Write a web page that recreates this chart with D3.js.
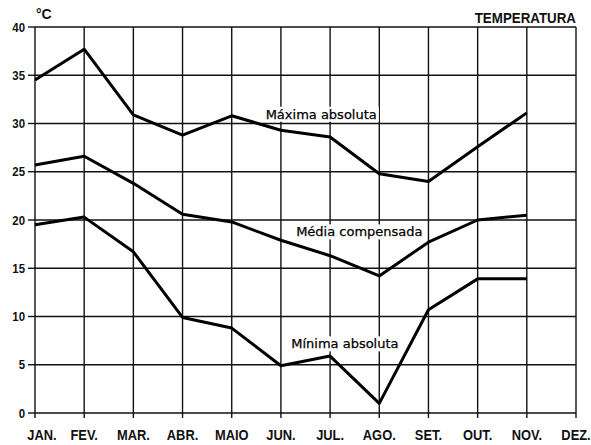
<!DOCTYPE html>
<html>
<head>
<meta charset="utf-8">
<script src="https://cdn.jsdelivr.net/npm/d3@7/dist/d3.min.js"></script>
<style>
  html, body { margin: 0; padding: 0; background: #fff; }
  svg { display: block; }
</style>
</head>
<body>
<svg id="chart" width="591" height="445"></svg>
<script>
// ---- data ----
const months = ["JAN.", "FEV.", "MAR.", "ABR.", "MAIO", "JUN.", "JUL.", "AGO.", "SET.", "OUT.", "NOV.", "DEZ."];
const yTicks = [0, 5, 10, 15, 20, 25, 30, 35, 40];
const maxima = [34.5, 37.7, 30.9, 28.8, 30.8, 29.3, 28.6, 24.8, 24.0, 27.6, 31.1];
const media  = [25.7, 26.6, 23.8, 20.6, 19.8, 17.9, 16.3, 14.2, 17.7, 20.0, 20.5];
const minima = [19.5, 20.3, 16.7, 9.9, 8.8, 4.9, 5.9, 1.0, 10.7, 13.9, 13.9];
const seriesLabels = ["Máxima absoluta", "Média compensada", "Mínima absoluta"];
const title = "TEMPERATURA";
const unit = "°C";

// ---- layout ----
const svg = d3.select("#chart");
const x = d3.scalePoint().domain(months).range([35, 576]);
const y = d3.scaleLinear().domain([0, 40]).range([413, 27]);
const ink = "#111";

// grid
const g = svg.append("g");
g.selectAll("line.h").data(yTicks).join("line")
  .attr("x1", x.range()[0]).attr("x2", x.range()[1])
  .attr("y1", d => y(d)).attr("y2", d => y(d))
  .attr("stroke", ink).attr("stroke-width", 1.4);
g.selectAll("line.v").data(months).join("line")
  .attr("x1", d => x(d)).attr("x2", d => x(d))
  .attr("y1", y(40)).attr("y2", y(0) + 5)
  .attr("stroke", ink).attr("stroke-width", 1.4);
// left ticks
g.selectAll("line.t").data(yTicks).join("line")
  .attr("x1", x.range()[0] - 7).attr("x2", x.range()[0])
  .attr("y1", d => y(d)).attr("y2", d => y(d))
  .attr("stroke", ink).attr("stroke-width", 1.4);

// y tick labels
svg.append("g").selectAll("text").data(yTicks).join("text")
  .attr("transform", d => `translate(${x.range()[0] - 10},${y(d) + 4.5}) scale(0.88,1)`)
  .attr("text-anchor", "end")
  .attr("font-family", "Liberation Sans, Arial, sans-serif")
  .attr("font-weight", "bold").attr("font-size", 13)
  .attr("fill", ink)
  .text(d => d);

// x labels
svg.append("g").selectAll("text").data(months).join("text")
  .attr("transform", (d, i) => `translate(${x(d) + (i === 0 ? 7 : 0)},${y(0) + 27}) scale(0.92,1)`)
  .attr("text-anchor", "middle")
  .attr("font-family", "Liberation Sans, Arial, sans-serif")
  .attr("font-weight", "bold").attr("font-size", 14)
  .attr("fill", ink)
  .text(d => d);

// unit and title
svg.append("text")
  .attr("transform", `translate(${x.range()[0] + 1},${y(40) - 8})`)
  .attr("font-family", "Liberation Sans, Arial, sans-serif")
  .attr("font-weight", "bold").attr("font-size", 14)
  .attr("fill", ink).text(unit);
svg.append("text")
  .attr("transform", `translate(${x.range()[1]},${y(40) - 4}) scale(0.89,1)`)
  .attr("text-anchor", "end")
  .attr("font-family", "Liberation Sans, Arial, sans-serif")
  .attr("font-weight", "bold").attr("font-size", 15)
  .attr("fill", ink).text(title);

// annotation labels (positions in data units: month index offset, value)
const annos = [
  { text: seriesLabels[0], m: 4.69, v: 30.5 },
  { text: seriesLabels[1], m: 5.31, v: 18.3 },
  { text: seriesLabels[2], m: 5.21, v: 6.7 }
];
const step = x.step();
const annoG = svg.append("g");
const annoTexts = annoG.selectAll("text").data(annos).join("text")
  .attr("x", d => x.range()[0] + d.m * step)
  .attr("y", d => y(d.v))
  .attr("font-family", "DejaVu Sans, sans-serif")
  .attr("font-size", 13)
  .attr("fill", "#000")
  .attr("stroke", "#000").attr("stroke-width", 0.25)
  .text(d => d.text);
annoTexts.each(function() {
  const b = this.getBBox();
  annoG.insert("rect", "text")
    .attr("x", b.x - 2).attr("y", b.y)
    .attr("width", b.width + 4).attr("height", b.height)
    .attr("fill", "#fff");
});

// lines
const line = d3.line().x((d, i) => x(months[i])).y(d => y(d));
svg.append("g").selectAll("path").data([maxima, media, minima]).join("path")
  .attr("d", line)
  .attr("fill", "none")
  .attr("stroke", "#000")
  .attr("stroke-width", 3)
  .attr("stroke-linejoin", "round");

// bring labels above lines
annoG.raise();
</script>
</body>
</html>
